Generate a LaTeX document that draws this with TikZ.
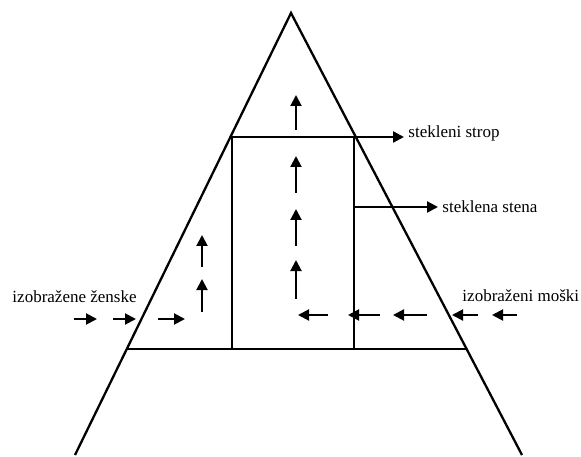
\documentclass[tikz,border=0pt]{standalone}
\usepackage{fontspec}
\setmainfont{Liberation Serif}
\usetikzlibrary{arrows.meta, positioning, calc}

\begin{document}
\begin{tikzpicture}[x=1pt, y=-1pt, line width=2.3pt, >={Triangle[length=11pt,width=11pt]}, font=\fontsize{17}{19}\selectfont]
    \useasboundingbox (0,0) rectangle (581,457);
    % piramida
    \coordinate (vrh) at (291,13);
    \coordinate (levo) at (75,455);
    \coordinate (desno) at (522,455);
    \draw (levo) -- (vrh) -- (desno);
    \coordinate (dnoL) at ($(vrh)!0.76!(levo)$);
    \coordinate (dnoD) at ($(vrh)!0.76!(desno)$);
    \draw (dnoL) -- (dnoD);
    % steklena stena in stekleni strop
    \coordinate (stropL) at (232,137);
    \coordinate (stropD) at (354,137);
    \draw (stropL |- dnoL) -- (stropL) -- (stropD) -- (stropD |- dnoL);
    \node[anchor=west] (strop) at (404,133) {stekleni strop};
    \draw[->] (stropD) -- (stropD -| strop.west);
    \coordinate (stena) at (354,207);
    \node[anchor=west] (stenaT) at (438,207) {steklena stena};
    \draw[->] (stena) -- (stena -| stenaT.west);
    % oznake
    \node[anchor=west] (zenske) at (8,297) {izobražene ženske};
    \node[anchor=west] (moski) at (458,296) {izobraženi moški};
    % puscice
    \foreach \a/\b in {130/95, 193/156, 246/209, 299/260}
        \draw[->, line width=2pt] (296,\a) -- (296,\b);
    \foreach \a/\b in {312/279, 267/235}
        \draw[->, line width=2pt] (202,\a) -- (202,\b);
    \foreach \a/\b in {74/97, 113/136, 158/185}
        \draw[->, line width=2pt] (\a,319) -- (\b,319);
    \foreach \a/\b in {517/492, 478/452, 427/393, 380/348, 328/298}
        \draw[->, line width=2pt] (\a,315) -- (\b,315);
\end{tikzpicture}
\end{document}
